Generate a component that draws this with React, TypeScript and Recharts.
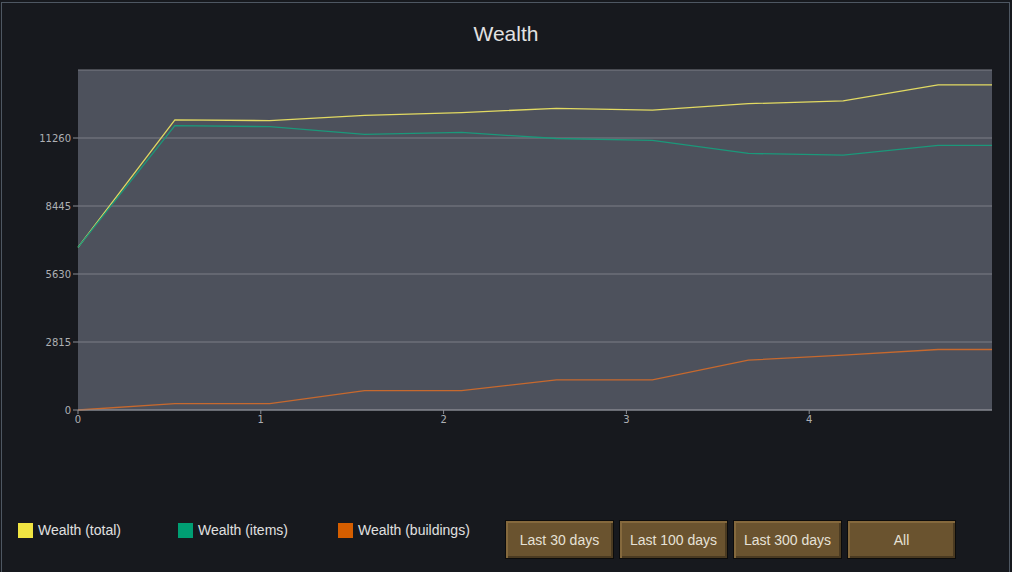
import { LineChart, Line, XAxis, YAxis, CartesianGrid } from "recharts";

// day index of each sample
const days = [0, 0.53, 1.049, 1.568, 2.098, 2.617, 3.142, 3.667, 4.186, 4.705, 5];
const wealthTotal = [6730, 12010, 11980, 12200, 12310, 12490, 12410, 12680, 12800, 13460, 13460];
const wealthItems = [6730, 11770, 11730, 11410, 11490, 11240, 11160, 10620, 10550, 10955, 10955];
const wealthBuildings = [0, 260, 260, 800, 800, 1245, 1245, 2065, 2270, 2505, 2505];

const yTicks = [0, 2815, 5630, 8445, 11260];
const xTicks = [0, 1, 2, 3, 4];
const rangeButtons = ["Last 30 days", "Last 100 days", "Last 300 days", "All"];

const series = [
  { key: "total", name: "Wealth (total)", swatch: "#f0e442", stroke: "#e2da62" },
  { key: "items", name: "Wealth (items)", swatch: "#009e73", stroke: "#1b987a" },
  { key: "buildings", name: "Wealth (buildings)", swatch: "#d55e00", stroke: "#c7692e" },
];

const data = days.map((d, i) => ({
  day: d,
  total: wealthTotal[i],
  items: wealthItems[i],
  buildings: wealthBuildings[i],
}));

const font = "'Liberation Sans', Arial, sans-serif";

export default function App() {
  return (
    <div
      style={{
        position: "fixed",
        left: 0,
        top: 0,
        width: 1012,
        height: 572,
        background: "#17191e",
        fontFamily: font,
        overflow: "hidden",
      }}
    >
      <div
        style={{
          position: "absolute",
          left: 1,
          top: 2,
          width: 1007,
          height: 580,
          border: "1px solid #4e5762",
        }}
      />
      <div
        style={{
          position: "absolute",
          left: 0,
          width: 1012,
          top: 22,
          textAlign: "center",
          color: "#e2e2e2",
          fontSize: 21,
        }}
      >
        Wealth
      </div>

      <div style={{ position: "absolute", left: 0, top: 0 }}>
        <LineChart
          width={1012}
          height={572}
          data={data}
          margin={{ top: 70, right: 20, bottom: 132, left: 18 }}
        >
          <CartesianGrid
            vertical={false}
            fill="#4d515c"
            stroke="#7c7f86"
            strokeWidth={1}
          />
          <XAxis
            dataKey="day"
            type="number"
            domain={[0, 5]}
            ticks={xTicks}
            height={30}
            stroke="#8a8d94"
            tickSize={4}
            tick={{ fill: "#aeb0b4", fontSize: 10, fontFamily: "'DejaVu Sans', sans-serif" }}
          />
          <YAxis
            type="number"
            domain={[0, 14075]}
            ticks={yTicks}
            width={60}
            axisLine={false}
            stroke="#8a8d94"
            tickSize={5}
            tick={{ fill: "#aeb0b4", fontSize: 10, fontFamily: "'DejaVu Sans', sans-serif" }}
          />
          {series.map((s) => (
            <Line
              key={s.key}
              type="linear"
              dataKey={s.key}
              name={s.name}
              stroke={s.stroke}
              strokeWidth={1.3}
              dot={false}
              isAnimationActive={false}
            />
          ))}
        </LineChart>
      </div>

      {series.map((s, i) => (
        <div
          key={s.key}
          style={{
            position: "absolute",
            left: 18 + i * 160,
            top: 522,
            display: "flex",
            alignItems: "center",
            color: "#e0e0e0",
            fontSize: 14,
          }}
        >
          <span
            style={{
              width: 15,
              height: 15,
              background: s.swatch,
              marginRight: 5,
              display: "inline-block",
            }}
          />
          {s.name}
        </div>
      ))}

      {rangeButtons.map((label, i) => (
        <div
          key={label}
          style={{
            position: "absolute",
            left: 505 + i * 114,
            top: 520,
            width: 109,
            height: 39,
            boxSizing: "border-box",
            border: "1px solid #0c0c0c",
            background: "#6a532f",
            boxShadow:
              "inset 2px 2px 0 #85693d, inset -2px -2px 0 #4a3a21",
            color: "#e6e1d6",
            fontSize: 14,
            display: "flex",
            alignItems: "center",
            justifyContent: "center",
          }}
        >
          {label}
        </div>
      ))}
    </div>
  );
}
